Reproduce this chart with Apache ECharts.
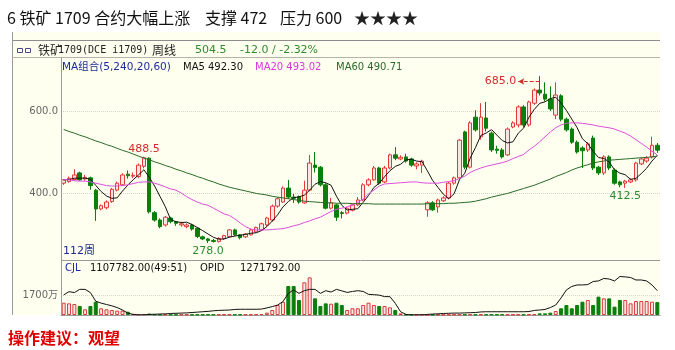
<!DOCTYPE html>
<html><head><meta charset="utf-8">
<script src="https://cdn.jsdelivr.net/npm/echarts@6/dist/echarts.min.js"></script>
<style>html,body{margin:0;padding:0;background:#fff;}#c{width:675px;height:350px;}</style>
</head><body><div id="c"></div>
<script>
const weeks = Array.from({length: 112}, (_, i) => 'W' + (i + 1));
const open = [424,428,433,449,434,437,407,361,364,379,
407,420,446,441,440,465,485,352,334,322,
339,330,322,318,322,314,293,288,284,282,
289,294,310,298,293,298,305,310,322,334,
368,378,412,390,391,376,407,468,463,420,
363,371,352,351,358,371,383,420,432,461,
427,461,493,483,488,483,466,468,359,376,
366,381,388,424,437,549,463,585,537,583,
546,507,505,493,561,566,610,566,619,651,
641,629,590,637,580,556,524,510,505,534,
463,449,488,456,427,424,427,432,471,478,
488,516.5];
const close = [432,436,444,432,438,418,361,369,378,409,
424,444,442,443,468,486,354,334,318,341,
330,326,325,322,312,294,288,284,282,289,
296,310,298,291,300,310,316,325,339,368,
386,412,390,387,378,407,473,462,420,363,
376,341,350,363,371,383,420,432,461,424,
461,493,485,487,478,468,471,478,376,359,
383,388,424,437,529,463,571,554,585,558,
505,504,488,556,571,610,566,622,651,644,
629,605,639,580,554,524,500,503,520,461,
449,488,461,424,420,429,432,473,483,485,
516.5,504.5];
const low = [420,425,430,430,430,408,332,358,360,376,
404,418,435,436,436,460,350,330,314,318,
326,320,318,314,308,290,285,278,279,279,
286,292,295,287,290,296,303,308,318,330,
364,376,386,376,374,374,404,450,416,360,
360,332,338,348,355,368,380,416,430,420,
424,458,480,480,474,464,458,449,342,356,
352,378,385,420,434,458,460,550,530,550,
500,496,484,490,558,560,560,562,615,638,
624,600,580,575,550,520,496,461,500,456,
444,444,456,420,414,412.5,424,428,468,474,
484,498];
const high = [434,440,458,452,444,440,410,372,382,412,
428,448,455,450,472,488.5,487,356,338,344,
342,332,330,326,325,316,296,290,288,292,
298,312,313,300,302,313,318,328,342,372,
390,416,432,398,394,430,493,500,466,424,
388,374,356,366,374,390,424,436,466,464,
466,496,512,492,496,486,475,481,380,380,
386,392,427,440,532,552,575,602,619,622,
550,515,510,560,575,614,614,625,655,685,
670,660,670,641,584,560,528,514,524,540,
466,492,492,460,430,432,436,476,486,490,
537,522];
const ma5 = [432,433,436,436,436.4,433.6,418.6,403.6,392.8,387,
388.2,404.8,419.4,432.4,444.2,456.6,438.6,417,392,366.6,
335.4,329.8,328,328.8,323,315.8,308.2,300,292,287.4,
287.8,292.2,295,296.8,299,301.8,303,308.4,318,331.6,
346.8,366,379,388.6,390.6,394.8,407,421.4,428,425,
418.8,392.4,370,358.6,360.2,361.6,377.4,393.8,413.4,424,
439.6,454.2,464.8,470,480.8,482.2,477.8,476.4,454.2,430.4,
413.4,396.8,386,398.2,432.2,448.2,484.8,510.8,540.4,546.2,
554.6,541.2,528,522.2,524.8,545.8,558.2,585,604,618.6,
622.4,630.2,633.6,619.4,601.4,580.4,559.4,532.2,520.2,501.6,
486.6,484.2,475.8,456.6,448.4,444.4,433.2,435.6,447.4,460.4,
477.9,492.3];
const ma20 = [433,432,430,429,429,427,424,421,418,417,
417,418,420,423,426,427,427,424,420,415,
410,407,400,391,384,378,373,370,363,356,
349,345,337,327,318,312,310,310,310,311,
312,313,316,320,323,328,332,337,341,348,
355,360,363,366,371,377,385,398,407,417,
422,423,424,425,426,427,427,425,424,424,
424,426,428,430,435,441,450,456,461,465,
468,471,474,478,484,489,494,505,514,525,
537,549,559,566,570,571,571,570,568,566,
563,561,559,556,551,546,539,530,521,512,
502,493];
const ma60 = [555,550,546,541,537,532,527,523,518,514,
509,504,500,495,490,485,481,476,472,467,
463,458,454,449,445,440,436,431,427,422,
418,414,411,408,405,402,399,397,395,392,
390,388,386,384,382,380,379,378,377,376,
376,375,375,375,374,374,374,374,373,373,
373,373,373,373,373,373,373,373,374,374,
374,374,375,375,376,377,378,380,383,386,
390,393,396,399,403,407,411,415,419,424,
429,434,440,445,450,456,461,465,469,473,
476,478,480,481,482,483,484,485,486,487,
488,490];
const volume = [1045,990,935,765,485,765,1130,570,485,425,
370,370,280,100,60,80,120,60,50,40,
40,30,30,40,30,40,30,40,30,40,
40,50,40,50,40,50,60,80,200,425,
850,1130,2465,2465,1275,2780,3200,1415,765,990,
960,1045,850,425,570,570,850,1045,850,765,
765,650,425,140,40,30,30,30,20,30,
30,30,30,30,40,40,40,40,40,40,
40,40,40,40,40,40,40,50,60,140,
140,200,340,570,850,570,850,1130,1275,850,
1560,1415,1415,710,1275,1275,990,1190,1190,1190,
1130,1100];
const opid = [105,122,117,134,134,117,72,62,55,48,
39,26,10,3,1,1,3,4,5,6,
8,9,10,11,13,15,17,19,22,24,
25,26,29,30,30,30,30,31,37,44,
52,70,113,131,113,127,134,134,113,127,
120,134,126,118,123,127,123,108,106,104,
96,96,61,17,3,1,1,1,3,5,
6,8,9,10,10,11,12,13,16,17,
17,17,17,17,17,17,17,18,24,26,
29,39,52,89,131,149,157,157,159,175,
178,191,188,178,201,199,196,183,183,178,
157,127];
const yTicks = [400, 600];

const LAT = '"DejaVu Sans","Noto Sans CJK SC",sans-serif';
const CJK = '"Noto Sans CJK SC",sans-serif';
const RED = '#d42a2a', GRN = '#2e8b2e';

const ohlc = open.map((o, i) => [o, close[i], low[i], high[i]]);
const volData = volume.map((v, i) => ({
  value: v,
  itemStyle: close[i] >= open[i]
    ? {color: '#fde6e2', borderColor: '#d43c3c', borderWidth: 1}
    : {color: '#0b7f0b', borderColor: '#0b7f0b', borderWidth: 1}
}));

function txt(x, y, text, fill, font, size, weight, align) {
  return {type: 'text', z: 50, silent: true, style: {x: x, y: y, text: text, fill: fill,
    font: (weight || 'normal') + ' ' + size + 'px ' + font, textAlign: align || 'left', textVerticalAlign: 'middle'}};
}
function ln(x1, y1, x2, y2, c) {
  return {type: 'line', z: 40, silent: true, shape: {x1: x1, y1: y1, x2: x2, y2: y2}, style: {stroke: c, lineWidth: 1}};
}

const chart = echarts.init(document.getElementById('c'), null, {renderer: 'canvas'});
chart.setOption({
  animation: false,
  backgroundColor: '#ffffff',
  graphic: [
    {type: 'rect', z: -10, silent: true, shape: {x: 12, y: 32, width: 648, height: 283}, style: {fill: '#fffff0'}},
    ln(12, 40.5, 660, 40.5, '#8c8c8c'),
    ln(12.5, 32, 12.5, 315, '#9a9a9a'),
    ln(12, 57.5, 660, 57.5, '#b4b4a8'),
    ln(61.5, 57.5, 61.5, 315, '#9a9a9a'),
    ln(61, 260.5, 660, 260.5, '#9a9a9a'),
    {type: 'rect', z: 40, silent: true, shape: {x: 17.5, y: 48.5, width: 5, height: 4}, style: {fill: 'none', stroke: '#4a4a8a', lineWidth: 1}},
    {type: 'rect', z: 40, silent: true, shape: {x: 25.5, y: 48.5, width: 5, height: 4}, style: {fill: 'none', stroke: '#4a4a8a', lineWidth: 1}},
    txt(7, 18, '6 铁矿 1709 合约大幅上涨', '#111', CJK, 16),
    txt(205, 18, '支撑 472', '#111', CJK, 16),
    txt(280, 18, '压力 600', '#111', CJK, 16),
    txt(354, 18, '★★★★', '#222', CJK, 16),
    txt(38, 50, '铁矿', '#222', CJK, 12),
    txt(58, 50, '1709(DCE i1709)', '#222', '"DejaVu Sans Mono",monospace', 10),
    txt(152, 50, '周线', '#222', CJK, 12),
    txt(195, 50, '504.5', GRN, LAT, 11),
    txt(240, 50, '-12.0 / -2.32%', GRN, LAT, 11),
    txt(62, 67, 'MA组合(5,240,20,60)', '#1c2a9a', LAT, 10.5),
    txt(183, 67, 'MA5 492.30', '#111', LAT, 10),
    txt(255, 67, 'MA20 493.02', '#d838d8', LAT, 10),
    txt(336, 67, 'MA60 490.71', '#2a6a2a', LAT, 10),
    txt(63, 251, '112周', '#1c2a8a', LAT, 11),
    txt(65, 268, 'CJL', '#1c2a9a', LAT, 10),
    txt(90, 268, '1107782.00(49:51)', '#111', LAT, 10),
    txt(200, 268, 'OPID', '#111', LAT, 10),
    txt(240, 268, '1271792.00', '#111', LAT, 10),
    txt(8, 338, '操作建议：观望', '#e00000', CJK, 16, 'bold')
  ],
  grid: [
    {left: 61, right: 15, top: 29, height: 246},
    {left: 61, right: 15, top: 275, height: 40}
  ],
  xAxis: [
    {type: 'category', gridIndex: 0, data: weeks, boundaryGap: true, show: false},
    {type: 'category', gridIndex: 1, data: weeks, boundaryGap: true,
     axisLine: {show: true, lineStyle: {color: '#9a9a9a'}}, axisTick: {show: false}, axisLabel: {show: false}}
  ],
  yAxis: [
    {type: 'value', gridIndex: 0, min: 200, max: 800, interval: 200, position: 'left',
     axisLine: {show: false}, axisTick: {show: false},
     axisLabel: {color: '#666', fontSize: 10, fontFamily: LAT, margin: 3, showMinLabel: false, showMaxLabel: false,
       formatter: v => yTicks.includes(v) ? v.toFixed(1) : ''},
     splitLine: {show: true, showMinLine: false, showMaxLine: false, lineStyle: {color: '#d6d6c8', type: 'dotted'}}},
    {type: 'value', gridIndex: 1, min: 0, max: 3400, interval: 1700, position: 'left',
     axisLine: {show: false}, axisTick: {show: false},
     axisLabel: {color: '#666', fontSize: 10, fontFamily: LAT, margin: 3, showMinLabel: false, showMaxLabel: false,
       formatter: v => v + '万'},
     splitLine: {show: true, showMinLine: false, showMaxLine: false, lineStyle: {color: '#d6d6c8', type: 'dotted'}}},
    {type: 'value', gridIndex: 1, min: 0, max: 209, show: false, splitLine: {show: false}}
  ],
  series: [
    {type: 'candlestick', xAxisIndex: 0, yAxisIndex: 0, data: ohlc, barWidth: 4, z: 3,
     itemStyle: {color: '#fde6e2', color0: '#0b7f0b', borderColor: '#e03a3a', borderColor0: '#0b7f0b', borderWidth: 1},
     markPoint: {symbol: 'circle', symbolSize: 0, silent: true,
       label: {show: true, fontSize: 11, fontFamily: LAT, formatter: p => Number(p.value).toFixed(1)},
       data: [
         {coord: [weeks[15], high[15]], value: high[15], label: {position: 'top', distance: 2, color: RED}},
         {coord: [weeks[27], low[27]], value: low[27], label: {position: 'bottom', distance: 3, color: GRN}},
         {coord: [weeks[105], low[105]], value: low[105], label: {position: 'bottom', distance: 3, color: GRN}}
       ]},
     markLine: {silent: true, symbol: ['none', 'arrow'], symbolSize: [5, 6], animation: false,
       lineStyle: {type: 'dashed', color: RED, width: 1},
       label: {show: true, position: 'end', distance: 2, color: RED, fontSize: 11, fontFamily: LAT,
         formatter: () => high[89].toFixed(1)},
       data: [[{coord: [weeks[89], high[89] - 13]}, {coord: [weeks[85], high[89] - 13]}]]}
    },
    {type: 'line', xAxisIndex: 0, yAxisIndex: 0, data: ma5, symbol: 'none', z: 4,
     lineStyle: {color: '#111', width: 1}},
    {type: 'line', xAxisIndex: 0, yAxisIndex: 0, data: ma20, symbol: 'none', z: 4,
     lineStyle: {color: '#dc4edc', width: 1}},
    {type: 'line', xAxisIndex: 0, yAxisIndex: 0, data: ma60, symbol: 'none', z: 4,
     lineStyle: {color: '#2a6a2a', width: 1}},
    {type: 'bar', xAxisIndex: 1, yAxisIndex: 1, data: volData, barWidth: 4, z: 3},
    {type: 'line', xAxisIndex: 1, yAxisIndex: 2, data: opid, symbol: 'none', z: 4,
     lineStyle: {color: '#111', width: 1}}
  ]
});
</script></body></html>
